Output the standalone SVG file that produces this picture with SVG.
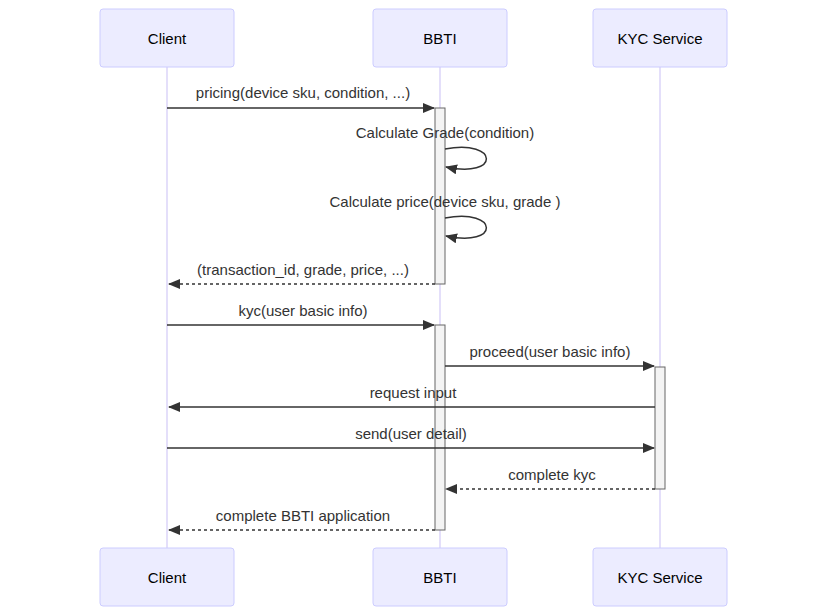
<svg xmlns="http://www.w3.org/2000/svg" width="828" height="616" viewBox="0 0 828 616">
<style>
.actor{fill:#ECECFF;stroke:#CCCCFF;stroke-width:1}
.atext{font-family:"Liberation Sans",Arial,sans-serif;font-size:15px;fill:#000;text-anchor:middle;dominant-baseline:central}
.life{stroke:#C9BFF5;stroke-width:1}
.msg{stroke:#333;stroke-width:1.5;fill:none}
.dash{stroke-dasharray:3,3}
.mtext{font-family:"Liberation Sans",Arial,sans-serif;font-size:15px;fill:#333;text-anchor:middle}
.act{fill:#F4F4F4;stroke:#666;stroke-width:1}
</style>
<defs>
<marker id="arrow" viewBox="0 0 12 10" refX="11" refY="5" markerWidth="12" markerHeight="10" markerUnits="userSpaceOnUse" orient="auto">
<path d="M0,0 L12,5 L0,10 z" fill="#333"/>
</marker>
</defs>
<rect width="828" height="616" fill="#fff"/>
<g id="lifelines">
<line class="life" x1="167" y1="67" x2="167" y2="548"/>
<line class="life" x1="440" y1="67" x2="440" y2="548"/>
<line class="life" x1="660" y1="67" x2="660" y2="548"/>
</g>
<g id="actor-client-top"><rect class="actor" x="100" y="9" width="134" height="58" rx="3"/><text class="atext" x="167" y="38">Client</text></g>
<g id="actor-bbti-top"><rect class="actor" x="373" y="9" width="134" height="58" rx="3"/><text class="atext" x="440" y="38">BBTI</text></g>
<g id="actor-kyc-top"><rect class="actor" x="593" y="9" width="134" height="58" rx="3"/><text class="atext" x="660" y="38">KYC Service</text></g>
<g id="actor-client-bottom"><rect class="actor" x="100" y="548" width="134" height="58" rx="3"/><text class="atext" x="167" y="577">Client</text></g>
<g id="actor-bbti-bottom"><rect class="actor" x="373" y="548" width="134" height="58" rx="3"/><text class="atext" x="440" y="577">BBTI</text></g>
<g id="actor-kyc-bottom"><rect class="actor" x="593" y="548" width="134" height="58" rx="3"/><text class="atext" x="660" y="577">KYC Service</text></g>
<g id="activations">
<rect class="act" x="435" y="108" width="10" height="176"/>
<rect class="act" x="435" y="325" width="10" height="205"/>
<rect class="act" x="655" y="367" width="10" height="122"/>
</g>
<g id="labels">
<text class="mtext" x="303" y="98">pricing(device sku, condition, ...)</text>
<text class="mtext" x="445" y="138">Calculate Grade(condition)</text>
<text class="mtext" x="445" y="207">Calculate price(device sku, grade )</text>
<text class="mtext" x="303" y="275">(transaction_id, grade, price, ...)</text>
<text class="mtext" x="303" y="316">kyc(user basic info)</text>
<text class="mtext" x="550" y="357">proceed(user basic info)</text>
<text class="mtext" x="413" y="398">request input</text>
<text class="mtext" x="411" y="439">send(user detail)</text>
<text class="mtext" x="552" y="480">complete kyc</text>
<text class="mtext" x="303" y="521">complete BBTI application</text>
</g>
<g id="connectors">
<line class="msg" x1="167" y1="108" x2="434" y2="108" marker-end="url(#arrow)"/>
<path class="msg" d="M445,149 C500,139 500,179 446,167" marker-end="url(#arrow)"/>
<path class="msg" d="M445,218 C500,208 500,248 446,236" marker-end="url(#arrow)"/>
<line class="msg dash" x1="435" y1="284" x2="169" y2="284" marker-end="url(#arrow)"/>
<line class="msg" x1="167" y1="325" x2="434" y2="325" marker-end="url(#arrow)"/>
<line class="msg" x1="445" y1="366" x2="654" y2="366" marker-end="url(#arrow)"/>
<line class="msg" x1="655" y1="407" x2="169" y2="407" marker-end="url(#arrow)"/>
<line class="msg" x1="167" y1="448" x2="654" y2="448" marker-end="url(#arrow)"/>
<line class="msg dash" x1="655" y1="489" x2="446" y2="489" marker-end="url(#arrow)"/>
<line class="msg dash" x1="435" y1="530" x2="169" y2="530" marker-end="url(#arrow)"/>
</g>
</svg>
